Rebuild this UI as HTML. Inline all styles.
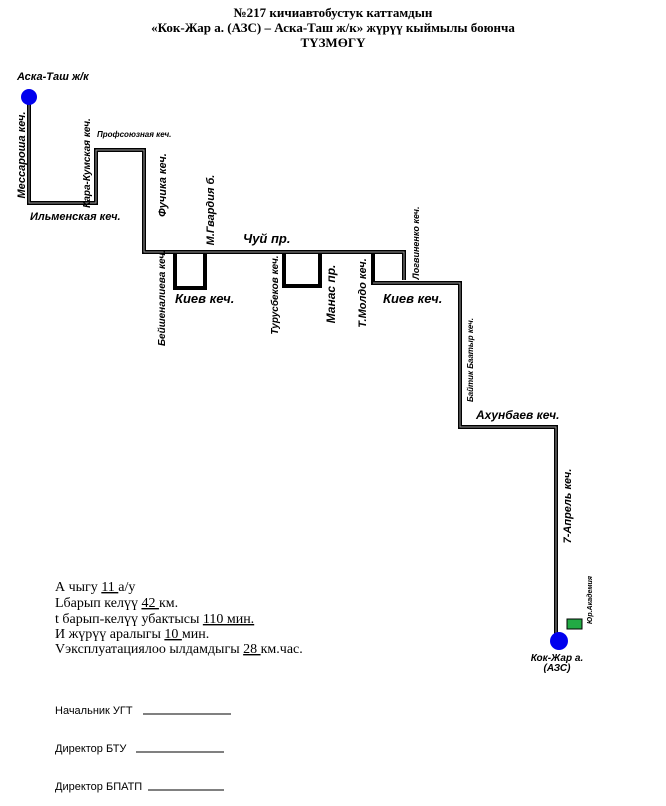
<!DOCTYPE html>
<html><head><meta charset="utf-8"><style>
body{margin:0;background:#fff;width:666px;height:806px;overflow:hidden}
svg{display:block}
.t{font-family:"Times New Roman","Liberation Serif",serif;font-weight:bold;font-size:13px}
.l{font-family:"Liberation Sans",sans-serif;font-weight:bold;font-style:italic}
.b{font-family:"Liberation Serif",serif;font-size:14px}
.s{font-family:"Liberation Sans",sans-serif;font-size:11px}
</style></head><body>
<svg width="666" height="806" viewBox="0 0 666 806">
<text class="t" x="333" y="17" text-anchor="middle">№217 кичиавтобустук каттамдын</text>
<text class="t" x="333" y="32" text-anchor="middle">«Кок-Жар а. (АЗС) – Аска-Таш ж/к» жүрүү кыймылы боюнча</text>
<text class="t" x="333" y="47" text-anchor="middle">ТҮЗМӨГҮ</text>
<g fill="none" stroke-linejoin="miter">
<g stroke="#000" stroke-width="4">
<polyline points="29,97 29,203 96,203 96,150 144,150 144,252 404,252 404,280"/>
<polyline points="175,252 175,288 205,288 205,252"/>
<polyline points="284,252 284,286 320,286 320,252"/>
<polyline points="373,252 373,283 460,283 460,427 556,427 556,640"/>
</g>
<g stroke="#999" stroke-width="1">
<polyline points="29,97 29,203 96,203 96,150 144,150 144,252 404,252 404,280"/>
<polyline points="373,283 460,283 460,427 556,427 556,640"/>
</g>
</g>
<circle cx="29" cy="97" r="8" fill="#0000ee"/>
<circle cx="559" cy="641" r="9" fill="#0000ee"/>
<rect x="567" y="619" width="15" height="10" fill="#22aa44" stroke="#000" stroke-width="1"/>
<text class="l" x="17" y="80" font-size="11">Аска-Таш ж/к</text>
<text class="l" x="97" y="137" font-size="8">Профсоюзная кеч.</text>
<text class="l" x="30" y="220" font-size="11">Ильменская кеч.</text>
<text class="l" x="243" y="243" font-size="13">Чуй пр.</text>
<text class="l" x="175" y="303" font-size="13">Киев кеч.</text>
<text class="l" x="383" y="303" font-size="13">Киев кеч.</text>
<text class="l" x="476" y="419" font-size="12">Ахунбаев  кеч.</text>
<text class="l" x="557" y="661" font-size="10" text-anchor="middle">Кок-Жар а.</text>
<text class="l" x="557" y="671" font-size="10" text-anchor="middle">(АЗС)</text>
<g class="l" text-anchor="middle">
<text transform="translate(25,155) rotate(-90)" font-size="11">Мессароша кеч.</text>
<text transform="translate(90,163) rotate(-90)" font-size="10">Кара-Кумская кеч.</text>
<text transform="translate(166,185) rotate(-90)" font-size="11">Фучика кеч.</text>
<text transform="translate(214,210) rotate(-90)" font-size="11">М.Гвардия б.</text>
<text transform="translate(419,243) rotate(-90)" font-size="9">Логвиненко кеч.</text>
<text transform="translate(165,298) rotate(-90)" font-size="10">Бейшеналиева кеч.</text>
<text transform="translate(278,295) rotate(-90)" font-size="10">Турусбеков кеч.</text>
<text transform="translate(335,294) rotate(-90)" font-size="12">Манас пр.</text>
<text transform="translate(366,293) rotate(-90)" font-size="11">Т.Молдо кеч.</text>
<text transform="translate(473,360) rotate(-90)" font-size="8">Байтик Баатыр кеч.</text>
<text transform="translate(571,506) rotate(-90)" font-size="11">7-Апрель кеч.</text>
<text transform="translate(592,600) rotate(-90)" font-size="7">Юр.Академия</text>
</g>
<g class="b">
<text x="55" y="591">А чыгу  <tspan text-decoration="underline">11 </tspan>а/у</text>
<text x="55" y="607">Lбарып келүү  <tspan text-decoration="underline">42 </tspan>км.</text>
<text x="55" y="623">t барып-келүү убактысы <tspan text-decoration="underline">110 мин.</tspan></text>
<text x="55" y="638">И жүрүү аралыгы <tspan text-decoration="underline">10  </tspan>    мин.</text>
<text x="55" y="653">Vэксплуатациялоо ылдамдыгы <tspan text-decoration="underline">  28 </tspan>км.час.</text>
</g>
<g class="s">
<text x="55" y="714">Начальник УГТ</text>
<text x="55" y="752">Директор  БТУ</text>
<text x="55" y="790">Директор БПАТП</text>
</g>
<g stroke="#000" stroke-width="1">
<line x1="143" y1="714" x2="231" y2="714"/>
<line x1="136" y1="752" x2="224" y2="752"/>
<line x1="148" y1="790" x2="224" y2="790"/>
</g>
</svg>
</body></html>
